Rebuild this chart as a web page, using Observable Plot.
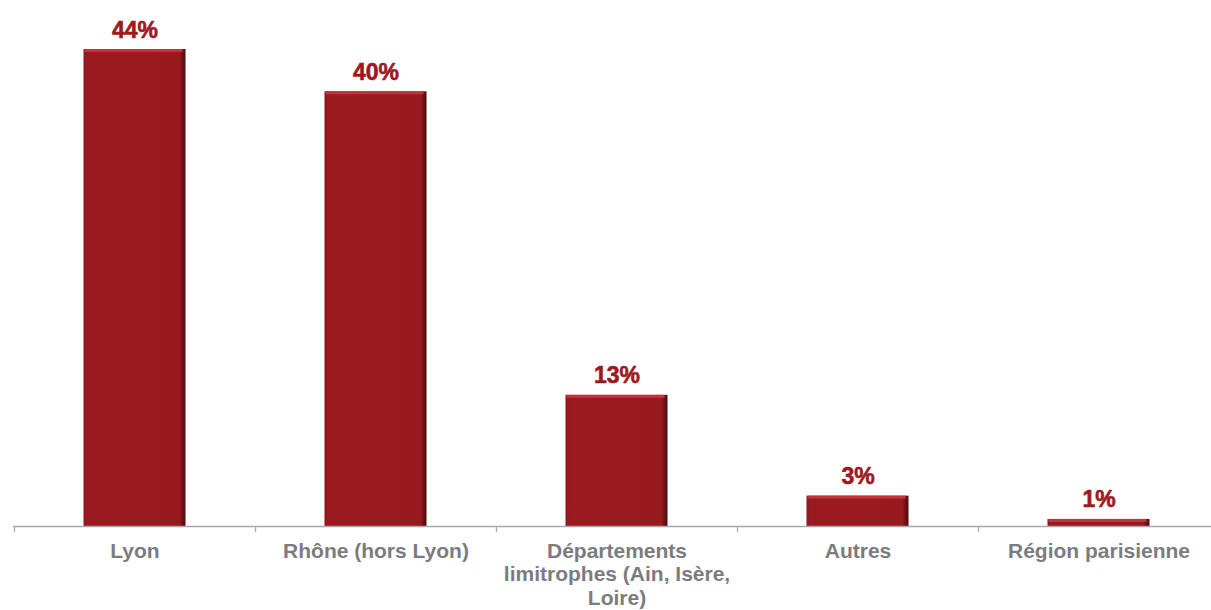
<!DOCTYPE html>
<html>
<head>
<meta charset="utf-8">
<script src="https://cdn.jsdelivr.net/npm/d3@7"></script>
<script src="https://cdn.jsdelivr.net/npm/@observablehq/plot@0.6"></script>
<style>
  html, body { margin: 0; padding: 0; background: #fff; }
  #chart svg { display: block; }
</style>
</head>
<body>
<div id="chart"></div>
<script>
const categories = ["Lyon", "Rhône (hors Lyon)", "Départements limitrophes (Ain, Isère, Loire)", "Autres", "Région parisienne"];
const tickLabels = ["Lyon", "Rhône (hors Lyon)", "Départements\nlimitrophes (Ain, Isère,\nLoire)", "Autres", "Région parisienne"];
const values = [44, 40.1, 12.1, 2.8, 0.65];
const valueLabels = ["44%", "40%", "13%", "3%", "1%"];

const data = categories.map((c, i) => ({cat: c, value: values[i], label: valueLabels[i], tick: tickLabels[i]}));

const W = 1211, H = 610;
const xRange = [14, 1219];
const step = (xRange[1] - xRange[0]) / categories.length;
const barInset = (step - 102) / 2;
const font = "Arial, 'Liberation Sans', Helvetica, sans-serif";

const chart = Plot.plot({
  width: W,
  height: H,
  marginTop: 49,
  marginBottom: 84,
  marginLeft: 13,
  marginRight: 0,
  style: {fontFamily: font, background: "#fff"},
  x: {domain: categories, range: xRange, padding: 0},
  y: {domain: [0, 44], axis: null},
  marks: [
    () => {
      const ns = "http://www.w3.org/2000/svg";
      const defs = document.createElementNS(ns, "defs");
      defs.innerHTML = `
        <linearGradient id="barGrad" x1="0" x2="1" y1="0" y2="0">
          <stop offset="0" stop-color="#8e161c"/>
          <stop offset="0.04" stop-color="#9a1a20"/>
          <stop offset="0.94" stop-color="#981a1f"/>
          <stop offset="0.97" stop-color="#6e1016"/>
          <stop offset="1" stop-color="#4e0a0f"/>
        </linearGradient>`;
      return defs;
    },
    Plot.barY(data, {x: "cat", y: "value", fill: "url(#barGrad)", insetLeft: barInset, insetRight: barInset}),
    Plot.barY(data, {x: "cat", y1: "value", y2: "value", fill: "#c3333f", insetLeft: barInset + 1, insetRight: barInset + 3, insetTop: 0, insetBottom: -3}),
    Plot.ruleY([0], {stroke: "#a9a9ad", strokeWidth: 1.3}),
    Plot.ruleX(data, {x: "cat", y1: 0, y2: 0, insetBottom: -6, dx: -step / 2, stroke: "#a9a9ad", strokeWidth: 1.3}),
    Plot.text(data, {x: "cat", y: "value", text: "label", dy: -12, lineAnchor: "bottom", fill: "#a0181e", fontSize: 23, fontWeight: 900, stroke: "#a0181e", strokeWidth: 0.6}),
    Plot.axisX({
      tickSize: 0,
      tickPadding: 14,
      tickFormat: (d) => tickLabels[categories.indexOf(d)],
      fontSize: 21,
      fontWeight: "bold",
      fill: "#7c7c80",
      lineHeight: 1.14,
      label: null
    })
  ]
});

document.getElementById("chart").appendChild(chart);
</script>
</body>
</html>
